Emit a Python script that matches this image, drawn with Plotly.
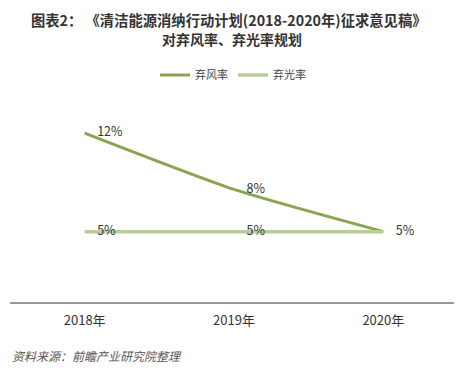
import plotly.graph_objects as go

years = ["2018年", "2019年", "2020年"]
wind = [12, 8, 5]
solar = [5, 5, 5]
wind_labels = ["12%", "8%", "5%"]
solar_labels = ["5%", "5%", ""]

FONT = "Noto Sans CJK SC"

# page body adds an 8px offset; figure is sized so it fits the window
OFF = 8
W, H = 462 - OFF, 372 - OFF
# plot area in reference-pixel coordinates
X0, X1, Y0, Y1 = 10, 458, 105, 302
l, r = X0 - OFF, W - (X1 - OFF)
t, b = Y0 - OFF, H - (Y1 - OFF)
ph = H - t - b
pw = W - l - r


def py(yref_px):
    return (H - b - (yref_px - OFF)) / ph


def px(xref_px):
    return ((xref_px - OFF) - l) / pw


SP = "\u2003"

fig = go.Figure()
fig.add_trace(go.Scatter(
    x=years, y=wind, name="弃风率", mode="lines+text",
    line=dict(color="#8aa54f", width=3, shape="spline", smoothing=0.6),
    text=[SP + s for s in wind_labels], textposition="middle right",
    textfont=dict(size=12.5, color="#333333", family=FONT),
))
fig.add_trace(go.Scatter(
    x=years, y=solar, name="弃光率", mode="lines+text",
    line=dict(color="#b8cd98", width=3.5),
    text=[(SP + s) if s else "" for s in solar_labels], textposition="middle right",
    textfont=dict(size=12.5, color="#333333", family=FONT),
))

fig.update_layout(
    width=W, height=H,
    margin=dict(l=l, r=r, t=t, b=b, autoexpand=False),
    paper_bgcolor="white", plot_bgcolor="white",
    font=dict(family=FONT, color="#333333"),
    showlegend=True,
    legend=dict(orientation="h", x=px(155), xanchor="left", y=py(75), yanchor="middle",
                font=dict(size=11, color="#444444", family=FONT),
                itemwidth=30, tracegroupgap=0),
    xaxis=dict(type="category", range=[-0.5, 2.5], showgrid=False,
               showline=True, linecolor="#999999", linewidth=1.5,
               ticks="", tickfont=dict(size=13, color="#333333", family=FONT),
               ticklabelstandoff=6, zeroline=False, automargin=False),
    yaxis=dict(range=[0, 14], visible=False, showgrid=False, zeroline=False),
    annotations=[
        dict(text="<b>图表2： 《清洁能源消纳行动计划(2018-2020年)征求意见稿》</b>",
             x=px(229), xref="paper", y=py(19), yref="paper", yanchor="middle",
             showarrow=False, borderpad=0,
             font=dict(size=14.3, color="#333333", family=FONT)),
        dict(text="<b>对弃风率、弃光率规划</b>",
             x=px(232), xref="paper", y=py(39.5), yref="paper", yanchor="middle",
             showarrow=False, borderpad=0,
             font=dict(size=14, color="#333333", family=FONT)),
        dict(text="<i>资料来源：前瞻产业研究院整理</i>",
             x=px(10), xref="paper", y=py(355), yref="paper", yanchor="middle",
             xanchor="left", showarrow=False,
             font=dict(size=12, color="#555555", family=FONT)),
    ],
)

fig.write_html("out.html")
